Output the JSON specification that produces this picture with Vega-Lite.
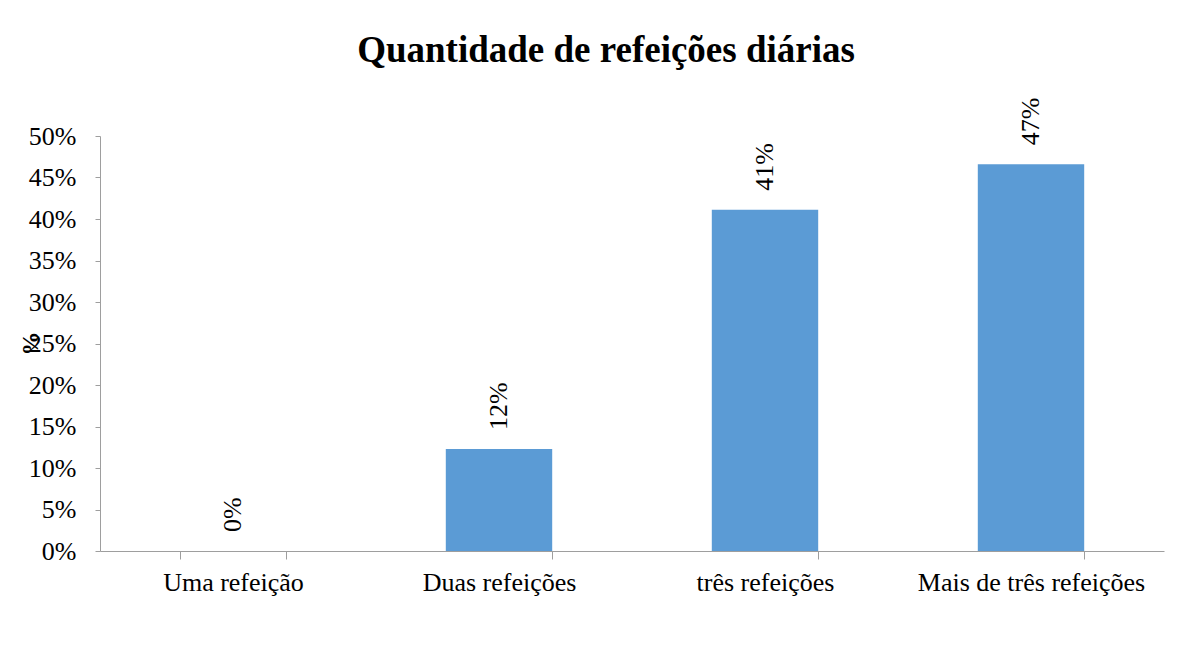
{
  "$schema": "https://vega.github.io/schema/vega-lite/v6.json",
  "width": 1064,
  "height": 415,
  "autosize": {"type": "none"},
  "padding": {"left": 100, "top": 136, "right": 30, "bottom": 95},
  "background": "white",
  "title": {
    "text": "Quantidade de refeições diárias",
    "font": "Liberation Serif",
    "fontSize": 37,
    "fontWeight": "bold",
    "color": "#000000",
    "anchor": "middle",
    "frame": "group",
    "offset": 28,
    "dx": -26
  },
  "data": {
    "values": [
      {"categoria": "Uma refeição", "valor": 0.0},
      {"categoria": "Duas refeições", "valor": 0.123},
      {"categoria": "três refeições", "valor": 0.411},
      {"categoria": "Mais de três refeições", "valor": 0.466}
    ]
  },
  "encoding": {
    "x": {
      "field": "categoria",
      "type": "nominal",
      "sort": null,
      "scale": {"paddingInner": 0.6, "paddingOuter": 0.3},
      "axis": {
        "title": null,
        "labelAngle": 0,
        "labelFont": "Liberation Serif",
        "labelFontSize": 26,
        "labelColor": "#000000",
        "labelPadding": 10,
        "tickBand": "extent",
        "tickSize": 8,
        "tickColor": "#9e9e9e",
        "domainColor": "#9e9e9e",
        "labelLimit": 400
      }
    },
    "y": {
      "field": "valor",
      "type": "quantitative",
      "scale": {"domain": [0, 0.5], "nice": false},
      "axis": {
        "title": "%",
        "titleFont": "Liberation Serif",
        "titleFontSize": 24,
        "titleFontWeight": "bold",
        "titleColor": "#000000",
        "titleBaseline": "middle",
        "titleX": -70,
        "titleY": 207,
        "values": [0, 0.05, 0.1, 0.15, 0.2, 0.25, 0.3, 0.35, 0.4, 0.45, 0.5],
        "format": ".0%",
        "grid": false,
        "labelFont": "Liberation Serif",
        "labelFontSize": 26,
        "labelColor": "#000000",
        "labelPadding": 19,
        "tickSize": 5,
        "tickColor": "#9e9e9e",
        "domainColor": "#9e9e9e"
      }
    }
  },
  "layer": [
    {"mark": {"type": "bar", "color": "#5B9BD5"}},
    {
      "mark": {
        "type": "text",
        "angle": 270,
        "align": "left",
        "baseline": "middle",
        "dx": 19,
        "font": "Liberation Serif",
        "fontSize": 26,
        "color": "#000000"
      },
      "encoding": {
        "text": {"field": "valor", "type": "quantitative", "format": ".0%"}
      }
    }
  ],
  "config": {"view": {"stroke": null}}
}
